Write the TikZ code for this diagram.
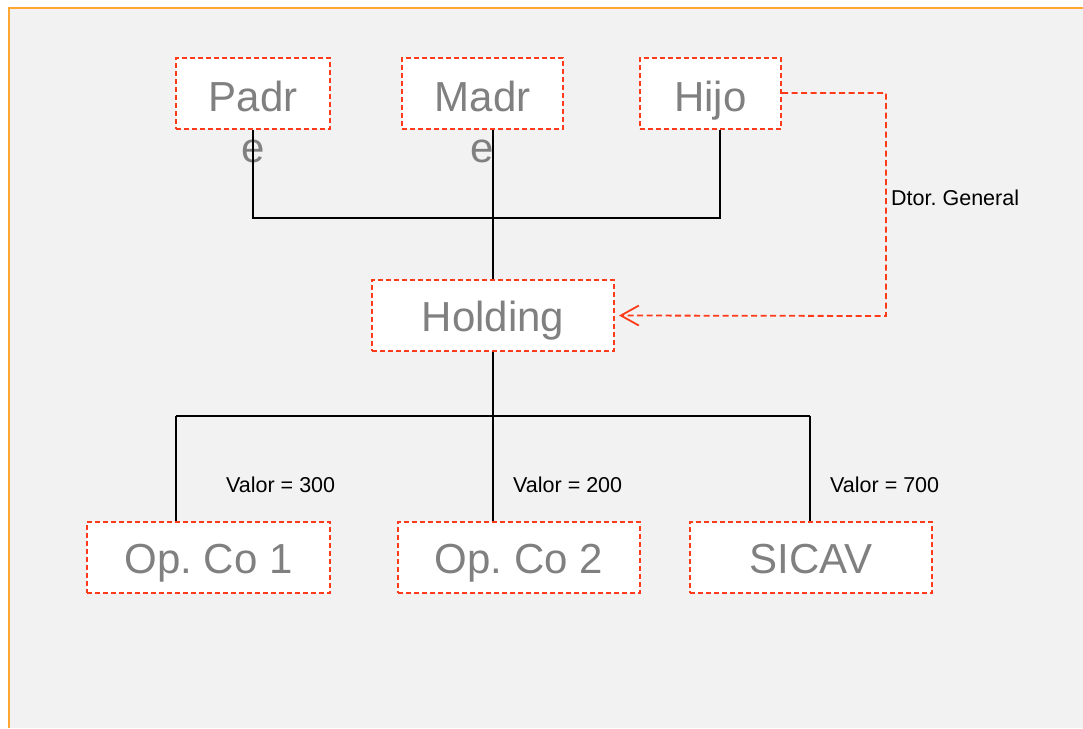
\documentclass[tikz,border=0pt]{standalone}
\usepackage{fontspec}
\setmainfont{Liberation Sans}
\frenchspacing
\usetikzlibrary{arrows.meta}
\definecolor{frameorange}{HTML}{FFA733}
\definecolor{panelgray}{HTML}{F2F2F2}
\definecolor{boxred}{HTML}{FF3B1A}
\definecolor{boxtext}{HTML}{808080}
\tikzset{
  entity/.style={draw=boxred, fill=white, line width=2pt, dash pattern=on 5pt off 3pt,
    inner sep=0pt, text=boxtext, font=\fontsize{42}{46}\selectfont,
    text height=31pt, text depth=0pt},
  wrapped/.style={text=boxtext, font=\fontsize{42}{46}\selectfont, inner sep=0pt, anchor=base},
  link/.style={draw=black, line width=1.8pt},
  note/.style={font=\fontsize{21.5}{25}\selectfont, text=black, inner sep=0pt},
  director/.style={draw=boxred, line width=1.8pt, dash pattern=on 6pt off 3.5pt,
    -{Straight Barb[length=18pt,width=20pt,line width=1.8pt]}}
}
\begin{document}
\begin{tikzpicture}[x=1pt,y=-1pt]
\useasboundingbox (0,0) rectangle (1083,728);
% panel and its frame
\fill[panelgray] (9,8) rectangle (1083,728);
\draw[frameorange, line width=2pt] (9,728) -- (9,8) -- (1083,8);

% owners
\node[entity, minimum width=154pt, minimum height=71pt] (padre) at (253,93.5) {};
\node[wrapped] (padreA) at (253,111.5) {Padr};
\node[wrapped] (padreB) at (253,162.5) {e};
\node[entity, minimum width=161pt, minimum height=71pt] (madre) at (482.5,93.5) {};
\node[wrapped] (madreA) at (482.5,111.5) {Madr};
\node[wrapped] (madreB) at (482.5,162.5) {e};
\node[entity, minimum width=141pt, minimum height=71pt] (hijo) at (710.5,93.5) {};
\node[wrapped] (hijoA) at (710.5,111.5) {Hijo};

% holding and its companies
\node[entity, minimum width=242pt, minimum height=71pt] (holding) at (493,315.5) {Holding};
\node[entity, minimum width=243pt, minimum height=71pt] (opco1) at (208.5,557.5) {Op. Co 1};
\node[entity, minimum width=242pt, minimum height=71pt] (opco2) at (519,557.5) {Op. Co 2};
\node[entity, minimum width=242pt, minimum height=71pt] (sicav) at (811,557.5) {SICAV};

% ownership tree, upper part
\coordinate (topbar) at (493,218);
\draw[link] (padre.south -| 253,0) -- (253,218) -- (720,218) -- (hijo.south -| 720,0);
\draw[link] (madre.south -| 493,0) -- (holding.north);

% ownership tree, lower part
\coordinate (lowbar) at (493,416);
\draw[link] (holding.south) -- (lowbar);
\draw[link] (176,416) -- (810,416);
\draw[link] (176,416) -- (opco1.north -| 176,0);
\draw[link] (lowbar) -- (opco2.north -| 493,0);
\draw[link] (810,416) -- (sicav.north -| 810,0);

% values
\node[note, anchor=base west] (v1) at (226,492) {Valor = 300};
\node[note, anchor=base west] (v2) at (513,492) {Valor = 200};
\node[note, anchor=base west] (v3) at (830,492) {Valor = 700};

% general director link
\draw[director] (hijo.east |- 0,93) -- (886,93) -- (886,316) -- ([xshift=4pt]holding.east);
\node[note, anchor=base west] (dtor) at (891,205) {Dtor. General};
\end{tikzpicture}
\end{document}
